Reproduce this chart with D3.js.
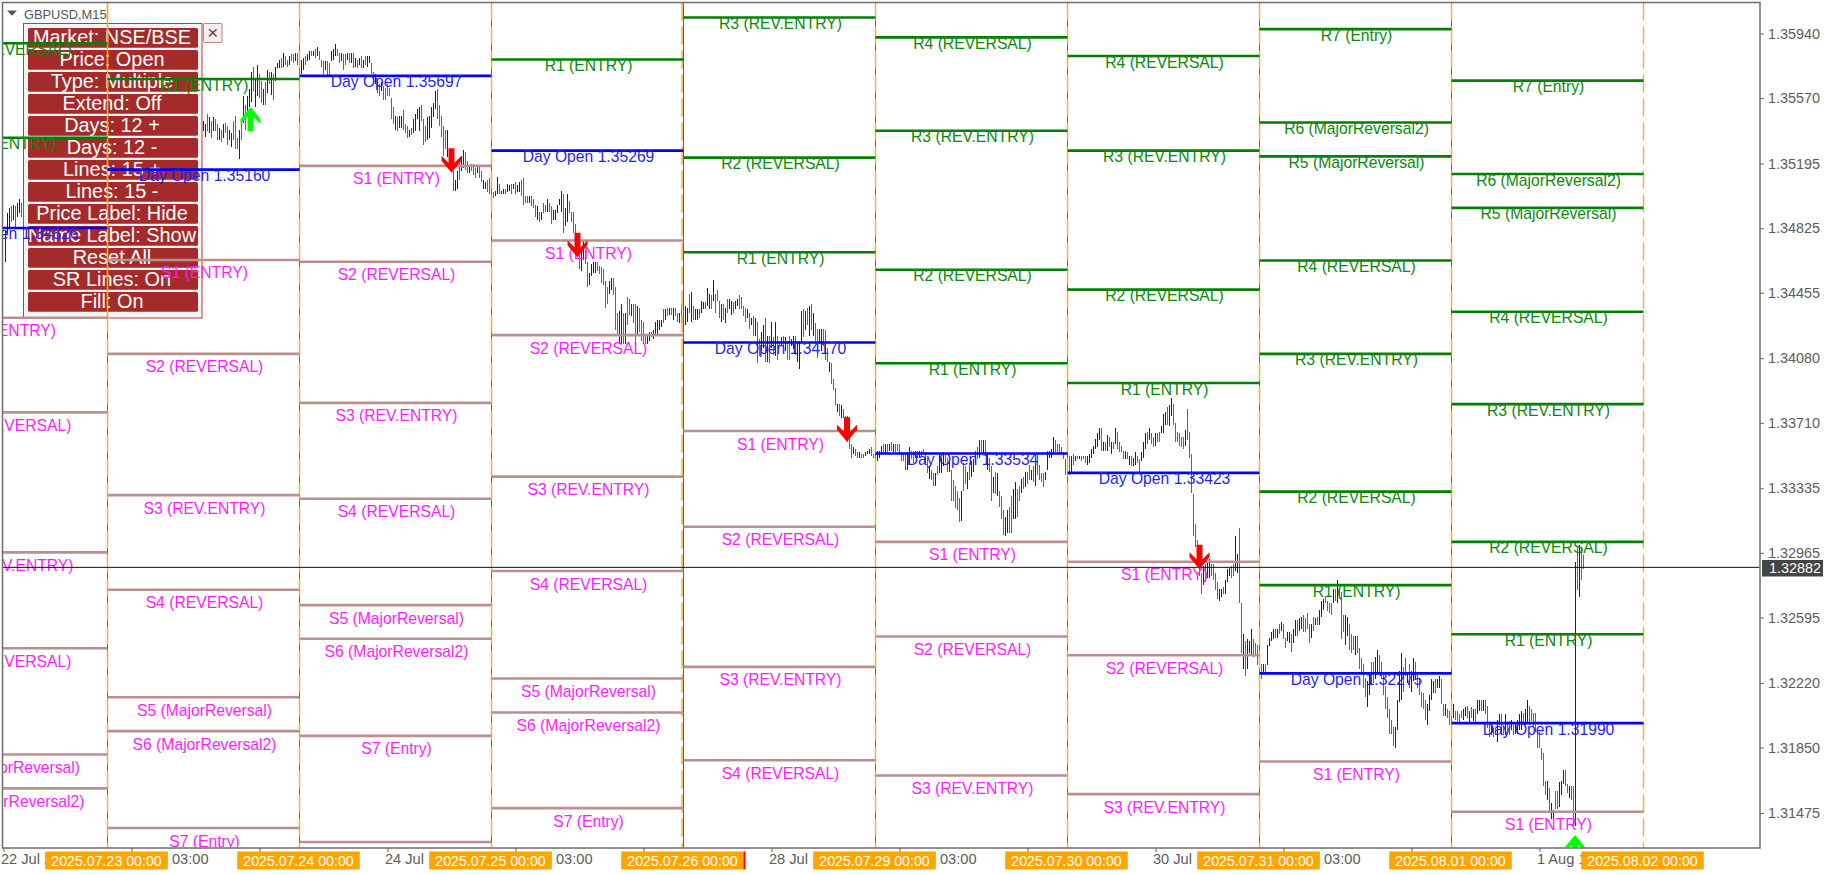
<!DOCTYPE html>
<html><head><meta charset="utf-8">
<script src="https://cdnjs.cloudflare.com/ajax/libs/d3/7.8.5/d3.min.js"></script>
<style>html,body{margin:0;background:#fff}svg{display:block}text{font-family:"Liberation Sans",Arial,sans-serif}</style>
</head><body><svg id="c" width="1832" height="875"></svg>
<script>
// Bars: [high, low, up] with prices in 1/10000.
const barsJul22 = [[13481,13463,1],[13491,13479,1],[13494,13483,1],[13495,13486,0],[13496,13487,1],[13495,13483,0],[13497,13489,1],[13499,13491,1],[13497,13489,0]];
const barsJul22FirstIndex = 1;
const barsFirstIndex = 100;
const barsJul23 = [[13544,13538,1],[13542,13535,1],[13548,13538,0],[13546,13537,1],[13544,13534,0],[13546,13538,1],[13545,13538,0],[13542,13533,0],[13540,13533,1],[13539,13532,0],[13542,13534,1],[13543,13537,0],[13541,13530,0],[13539,13533,1],[13537,13529,1],[13544,13533,0],[13547,13528,0],[13534,13528,0],[13539,13522,1],[13544,13533,0],[13558,13543,1],[13553,13539,0],[13558,13549,1],[13562,13552,1],[13572,13555,1],[13575,13561,0],[13568,13552,1],[13576,13558,1],[13571,13557,0],[13567,13554,0],[13562,13553,1],[13566,13553,0],[13573,13560,1],[13572,13565,0],[13572,13559,1],[13571,13556,0],[13575,13567,1],[13577,13574,1],[13579,13574,1],[13580,13574,0],[13583,13575,1],[13581,13576,0],[13579,13575,0],[13581,13576,1],[13582,13578,0],[13582,13577,0],[13583,13578,1],[13583,13576,0],[13582,13570,0]];
const barsJul24 = [[13579,13571,1],[13580,13573,1],[13581,13576,0],[13582,13578,1],[13584,13579,1],[13584,13581,0],[13584,13581,1],[13585,13580,0],[13586,13581,1],[13584,13579,0],[13579,13575,0],[13578,13571,0],[13578,13573,1],[13578,13570,0],[13577,13570,0],[13584,13578,1],[13585,13579,1],[13588,13581,1],[13585,13581,0],[13583,13577,0],[13583,13578,1],[13582,13573,0],[13582,13576,0],[13583,13579,1],[13583,13577,0],[13583,13577,1],[13583,13574,0],[13580,13575,1],[13579,13574,0],[13580,13576,1],[13581,13574,0],[13579,13574,1],[13581,13576,0],[13581,13575,1],[13581,13577,1],[13577,13571,0],[13572,13566,0],[13571,13565,1],[13568,13560,0],[13565,13558,0],[13566,13561,1],[13564,13556,0],[13563,13556,0],[13565,13558,0],[13563,13558,0],[13557,13545,0],[13552,13542,0],[13547,13539,1],[13546,13538,0],[13547,13540,1],[13547,13540,1],[13550,13539,0],[13542,13537,0],[13541,13534,0],[13539,13535,1],[13540,13536,0],[13545,13537,1],[13548,13538,1],[13551,13545,1],[13552,13538,1],[13553,13544,0],[13545,13530,0],[13541,13532,0],[13546,13533,1],[13547,13534,1],[13552,13540,1],[13554,13546,1],[13561,13551,1],[13562,13545,0],[13553,13541,0],[13547,13535,0],[13541,13524,0],[13539,13528,0],[13539,13523,1],[13528,13519,0],[13525,13515,0],[13515,13504,0],[13510,13504,1],[13515,13505,1],[13520,13510,0],[13524,13515,1],[13527,13517,1],[13526,13516,0],[13521,13514,0],[13518,13514,1],[13519,13515,0],[13519,13513,0],[13517,13511,0],[13518,13514,1],[13518,13511,0],[13515,13509,0],[13510,13505,1],[13509,13505,1],[13510,13503,0],[13511,13502,0],[13505,13502,0]];
const barsJul25 = [[13503,13500,0],[13504,13501,1],[13512,13502,1],[13508,13502,0],[13504,13502,1],[13505,13502,1],[13505,13502,0],[13508,13503,1],[13507,13504,1],[13508,13502,0],[13508,13505,1],[13509,13502,0],[13507,13503,1],[13509,13503,1],[13510,13501,0],[13511,13496,0],[13501,13497,0],[13501,13497,0],[13501,13497,1],[13501,13495,0],[13499,13494,0],[13496,13489,0],[13495,13487,1],[13492,13486,0],[13492,13487,1],[13497,13491,0],[13496,13492,0],[13499,13492,1],[13497,13492,0],[13495,13485,0],[13493,13487,1],[13493,13487,1],[13496,13491,1],[13499,13496,1],[13504,13492,1],[13502,13480,0],[13494,13484,1],[13502,13486,1],[13498,13491,0],[13492,13486,0],[13492,13480,0],[13485,13478,0],[13480,13466,0],[13472,13459,0],[13469,13458,1],[13476,13464,1],[13470,13462,0],[13463,13449,0],[13457,13450,1],[13462,13455,1],[13463,13457,1],[13463,13457,1],[13463,13458,0],[13461,13456,0],[13460,13451,0],[13459,13450,0],[13452,13437,0],[13449,13439,0],[13452,13445,1],[13454,13447,1],[13454,13444,0],[13449,13424,0],[13434,13422,0],[13435,13416,1],[13439,13416,1],[13434,13416,0],[13434,13416,1],[13443,13427,0],[13442,13433,0],[13439,13432,1],[13439,13428,0],[13439,13415,0],[13438,13422,1],[13437,13423,0],[13430,13418,0],[13429,13416,0],[13421,13416,0],[13422,13416,1],[13423,13418,1],[13423,13420,0],[13424,13419,1],[13429,13421,1],[13430,13422,1],[13430,13424,1],[13430,13426,1],[13436,13428,0],[13436,13430,1],[13437,13432,0],[13437,13433,1],[13437,13433,0],[13437,13430,1],[13437,13432,0],[13434,13429,0],[13434,13428,1],[13439,13428,0],[13438,13429,0]];
const barsJul28 = [[13438,13427,1],[13437,13429,1],[13445,13434,0],[13446,13429,1],[13438,13430,0],[13436,13430,1],[13436,13430,1],[13436,13431,0],[13441,13434,1],[13440,13436,1],[13440,13436,0],[13448,13438,1],[13445,13436,1],[13444,13436,0],[13453,13441,1],[13445,13434,0],[13447,13441,0],[13441,13431,0],[13439,13429,1],[13439,13430,0],[13437,13428,1],[13442,13434,0],[13442,13436,1],[13441,13433,1],[13440,13434,0],[13441,13436,1],[13442,13438,1],[13444,13436,0],[13443,13436,0],[13438,13432,0],[13437,13429,0],[13436,13431,1],[13434,13425,0],[13431,13427,1],[13432,13421,0],[13431,13421,1],[13429,13405,0],[13419,13409,0],[13423,13412,1],[13427,13414,1],[13431,13406,0],[13421,13406,1],[13421,13405,0],[13429,13414,1],[13420,13410,0],[13429,13409,1],[13421,13407,0],[13418,13415,0],[13420,13415,1],[13421,13414,0],[13420,13412,1],[13418,13407,0],[13421,13407,0],[13419,13415,1],[13421,13413,1],[13421,13410,0],[13417,13406,1],[13418,13402,1],[13435,13417,1],[13436,13420,0],[13435,13424,1],[13437,13427,0],[13438,13421,1],[13439,13424,0],[13434,13421,1],[13428,13418,0],[13425,13408,0],[13425,13416,1],[13425,13412,1],[13425,13415,0],[13424,13407,0],[13414,13406,0],[13406,13400,1],[13405,13393,0],[13396,13390,0],[13391,13381,0],[13382,13377,1],[13382,13375,0],[13381,13374,1],[13379,13374,0],[13375,13364,0],[13375,13360,0],[13365,13356,0],[13359,13351,0],[13357,13353,1],[13356,13352,0],[13354,13351,0],[13354,13351,1],[13353,13351,0],[13353,13351,0],[13354,13352,1],[13355,13353,1],[13356,13353,1],[13357,13352,0],[13353,13351,0],[13356,13350,0]];
const barsJul29 = [[13355,13349,1],[13355,13351,1],[13358,13353,1],[13359,13354,0],[13359,13353,1],[13359,13354,0],[13359,13355,1],[13360,13355,0],[13359,13354,1],[13359,13353,0],[13359,13355,0],[13359,13353,0],[13354,13349,0],[13353,13349,0],[13353,13344,0],[13354,13344,1],[13357,13347,1],[13355,13350,0],[13355,13348,0],[13355,13351,1],[13355,13351,0],[13355,13351,1],[13355,13352,0],[13356,13353,0],[13354,13347,0],[13351,13342,0],[13346,13339,1],[13344,13338,0],[13342,13335,0],[13342,13335,1],[13346,13341,0],[13353,13342,1],[13351,13342,1],[13354,13346,1],[13353,13348,0],[13351,13343,0],[13349,13343,1],[13344,13326,0],[13338,13326,0],[13335,13322,0],[13332,13321,0],[13328,13314,0],[13332,13315,1],[13348,13332,0],[13346,13336,0],[13343,13333,1],[13348,13338,0],[13349,13340,1],[13350,13343,1],[13355,13348,1],[13357,13350,0],[13361,13351,1],[13361,13354,0],[13361,13353,1],[13361,13352,0],[13354,13344,1],[13351,13343,0],[13346,13326,0],[13340,13331,1],[13343,13330,0],[13342,13329,1],[13332,13323,0],[13329,13316,0],[13321,13307,0],[13317,13306,1],[13321,13308,1],[13323,13308,0],[13329,13308,0],[13333,13316,1],[13337,13316,1],[13333,13317,0],[13335,13326,0],[13339,13331,1],[13340,13333,0],[13343,13334,1],[13343,13336,0],[13347,13338,0],[13344,13338,1],[13346,13337,0],[13347,13335,1],[13353,13341,0],[13347,13338,0],[13342,13337,0],[13342,13334,0],[13343,13338,1],[13355,13344,1],[13355,13351,1],[13356,13351,1],[13363,13353,1],[13361,13354,0],[13359,13354,0],[13359,13353,0],[13357,13353,0],[13354,13350,0],[13350,13341,0],[13354,13342,0]];
const barsJul30 = [[13352,13341,0],[13352,13343,1],[13353,13347,0],[13352,13349,1],[13352,13350,0],[13352,13350,1],[13352,13349,0],[13352,13350,0],[13352,13348,0],[13352,13347,1],[13353,13348,1],[13356,13351,1],[13358,13353,1],[13362,13356,1],[13365,13357,1],[13368,13361,1],[13368,13355,0],[13360,13355,1],[13360,13355,0],[13364,13355,1],[13363,13357,0],[13360,13353,1],[13360,13356,0],[13368,13359,1],[13366,13356,0],[13360,13354,0],[13358,13354,0],[13355,13350,0],[13355,13350,1],[13354,13350,0],[13352,13347,1],[13352,13346,0],[13351,13346,1],[13354,13347,1],[13352,13348,0],[13350,13342,0],[13354,13349,1],[13360,13351,1],[13365,13356,1],[13366,13359,0],[13368,13361,1],[13365,13359,0],[13363,13357,0],[13365,13358,1],[13365,13360,0],[13366,13360,0],[13369,13365,1],[13376,13365,1],[13377,13370,1],[13380,13370,0],[13381,13369,1],[13385,13375,1],[13382,13370,0],[13371,13360,0],[13366,13360,0],[13365,13358,0],[13363,13357,0],[13363,13356,0],[13367,13358,1],[13379,13361,0],[13366,13351,0],[13353,13331,0],[13330,13306,0],[13313,13300,0],[13304,13289,0],[13294,13283,0],[13285,13273,0],[13289,13278,1],[13290,13280,0],[13291,13282,1],[13293,13282,1],[13290,13283,0],[13290,13281,0],[13285,13275,0],[13280,13270,0],[13276,13269,1],[13276,13271,1],[13277,13273,0],[13281,13273,1],[13287,13280,1],[13288,13283,1],[13289,13282,0],[13290,13283,0],[13306,13286,1],[13296,13285,1],[13311,13268,0],[13268,13239,0],[13250,13230,1],[13246,13226,0],[13247,13230,1],[13246,13239,1],[13253,13238,1],[13247,13237,0],[13245,13238,0],[13244,13232,0],[13239,13226,0]];
const barsJul31 = [[13233,13224,0],[13233,13227,1],[13233,13227,0],[13244,13232,1],[13248,13243,1],[13251,13246,1],[13253,13247,1],[13253,13248,0],[13253,13248,1],[13256,13250,0],[13257,13252,1],[13256,13247,0],[13248,13242,0],[13251,13246,1],[13251,13245,1],[13250,13240,0],[13253,13245,1],[13258,13249,1],[13258,13249,0],[13259,13252,1],[13260,13253,1],[13261,13251,0],[13259,13251,0],[13262,13253,0],[13256,13245,0],[13256,13248,1],[13260,13252,0],[13259,13255,1],[13260,13255,0],[13264,13255,1],[13269,13260,1],[13270,13264,1],[13271,13268,0],[13269,13263,0],[13268,13262,0],[13268,13261,0],[13276,13268,1],[13276,13269,0],[13281,13268,1],[13276,13270,0],[13274,13247,0],[13261,13251,0],[13261,13244,1],[13260,13249,1],[13256,13241,0],[13250,13239,0],[13249,13241,0],[13249,13238,1],[13249,13239,0],[13242,13230,0],[13236,13228,0],[13233,13219,0],[13225,13214,0],[13223,13208,1],[13227,13215,1],[13234,13221,0],[13234,13222,0],[13237,13224,1],[13241,13227,1],[13238,13227,0],[13234,13224,0],[13228,13215,0],[13220,13207,0],[13214,13202,0],[13207,13193,0],[13201,13193,0],[13197,13186,0],[13197,13185,1],[13212,13195,1],[13229,13211,1],[13239,13212,1],[13231,13217,0],[13236,13226,0],[13228,13222,1],[13233,13219,0],[13229,13217,1],[13236,13223,1],[13234,13224,0],[13228,13219,0],[13225,13215,0],[13217,13208,0],[13216,13207,0],[13212,13201,0],[13210,13198,1],[13215,13206,1],[13224,13212,1],[13223,13216,1],[13224,13216,0],[13224,13219,1],[13226,13219,1],[13224,13210,0],[13210,13203,0],[13210,13203,1],[13207,13202,0],[13206,13198,0],[13208,13199,0]];
const barsAug01 = [[13210,13202,1],[13206,13201,0],[13206,13200,0],[13204,13199,0],[13206,13202,0],[13207,13201,1],[13208,13203,1],[13209,13202,0],[13206,13199,1],[13208,13202,0],[13207,13200,1],[13207,13199,0],[13212,13204,1],[13212,13206,1],[13212,13206,0],[13212,13206,1],[13212,13204,0],[13209,13196,0],[13199,13191,0],[13198,13192,1],[13196,13191,0],[13196,13192,0],[13201,13188,1],[13204,13198,1],[13204,13192,0],[13198,13192,0],[13204,13192,1],[13199,13194,0],[13200,13192,0],[13201,13195,1],[13198,13192,0],[13199,13193,1],[13201,13193,1],[13204,13195,1],[13206,13195,1],[13205,13198,0],[13207,13198,1],[13212,13199,1],[13209,13198,0],[13207,13200,0],[13205,13197,0],[13205,13194,0],[13195,13185,0],[13194,13185,0],[13185,13178,0],[13182,13163,0],[13166,13158,0],[13166,13155,1],[13162,13148,0],[13153,13144,1],[13149,13144,1],[13160,13150,0],[13160,13150,0],[13165,13151,1],[13166,13158,1],[13172,13164,1],[13172,13163,0],[13164,13159,0],[13163,13156,1],[13163,13155,0],[13163,13140,0],[13291,13140,1],[13300,13275,0],[13301,13271,1],[13300,13281,0],[13295,13287,0]];

const priceTicks = [1.3594,1.3557,1.35195,1.34825,1.34455,1.3408,1.3371,1.33335,1.32965,1.32595,1.3222,1.3185,1.31475];
const lastPrice = 1.32882;
const timeTickBars = [0,64,128,192,256,320,384,448,512,576,640,704,768];
const timeTickLabels = ["22 Jul 2025","23 Jul 03:00","23 Jul 19:00","24 Jul 11:00","25 Jul 03:00","25 Jul 19:00","28 Jul 11:00","29 Jul 03:00","29 Jul 19:00","30 Jul 11:00","31 Jul 03:00","31 Jul 19:00","1 Aug 11:00"];
const dayBars = [52,148,244,340,436,532,628,724,820];
const dayLabels = ["2025.07.23 00:00","2025.07.24 00:00","2025.07.25 00:00","2025.07.26 00:00","2025.07.29 00:00","2025.07.30 00:00","2025.07.31 00:00","2025.08.01 00:00","2025.08.02 00:00"];

const levelStarts = [-44,52,148,244,340,436,532,628,724];
const levelsA = [1.35884,1.35343,1.34826,1.34312,1.3377,1.32968,1.32419,1.3181,1.31616];
const namesA = ["R2 (REVERSAL)","R1 (ENTRY)","Day Open 1.34826","S1 (ENTRY)","S2 (REVERSAL)","S3 (REV.ENTRY)","S4 (REVERSAL)","S5 (MajorReversal)","S6 (MajorReversal2)"];
const levelsB = [1.35679,1.3516,1.34643,1.34105,1.33296,1.32754,1.32138,1.31944,1.31389];
const namesB = ["R1 (ENTRY)","Day Open 1.35160","S1 (ENTRY)","S2 (REVERSAL)","S3 (REV.ENTRY)","S4 (REVERSAL)","S5 (MajorReversal)","S6 (MajorReversal2)","S7 (Entry)"];
const levelsC = [1.35697,1.35182,1.34633,1.33824,1.33275,1.32666,1.32473,1.31917,1.31309];
const namesC = ["Day Open 1.35697","S1 (ENTRY)","S2 (REVERSAL)","S3 (REV.ENTRY)","S4 (REVERSAL)","S5 (MajorReversal)","S6 (MajorReversal2)","S7 (Entry)",""];
const levelsD = [1.35791,1.35269,1.34754,1.34212,1.33402,1.32861,1.32245,1.32051,1.31503];
const namesD = ["R1 (ENTRY)","Day Open 1.35269","S1 (ENTRY)","S2 (REVERSAL)","S3 (REV.ENTRY)","S4 (REVERSAL)","S5 (MajorReversal)","S6 (MajorReversal2)","S7 (Entry)"];
const levelsE = [1.36032,1.35229,1.34687,1.3417,1.33663,1.33115,1.32312,1.31777];
const namesE = ["R3 (REV.ENTRY)","R2 (REVERSAL)","R1 (ENTRY)","Day Open 1.34170","S1 (ENTRY)","S2 (REVERSAL)","S3 (REV.ENTRY)","S4 (REVERSAL)"];
const levelsF = [1.35918,1.35383,1.34587,1.34051,1.33534,1.33028,1.32486,1.3169];
const namesF = ["R4 (REVERSAL)","R3 (REV.ENTRY)","R2 (REVERSAL)","R1 (ENTRY)","Day Open 1.33534","S1 (ENTRY)","S2 (REVERSAL)","S3 (REV.ENTRY)"];
const levelsG = [1.35811,1.35269,1.34473,1.33938,1.33423,1.32914,1.32379,1.31583];
const namesG = ["R4 (REVERSAL)","R3 (REV.ENTRY)","R2 (REVERSAL)","R1 (ENTRY)","Day Open 1.33423","S1 (ENTRY)","S2 (REVERSAL)","S3 (REV.ENTRY)"];
const levelsH = [1.35965,1.3543,1.35236,1.3464,1.34105,1.33316,1.3278,1.32275,1.3177];
const namesH = ["R7 (Entry)","R6 (MajorReversal2)","R5 (MajorReversal)","R4 (REVERSAL)","R3 (REV.ENTRY)","R2 (REVERSAL)","R1 (ENTRY)","Day Open 1.32275","S1 (ENTRY)"];
const levelsI = [1.3567,1.35135,1.34941,1.34346,1.33817,1.33028,1.32499,1.3199,1.31482];
const namesI = ["R7 (Entry)","R6 (MajorReversal2)","R5 (MajorReversal)","R4 (REVERSAL)","R3 (REV.ENTRY)","R2 (REVERSAL)","R1 (ENTRY)","Day Open 1.31990","S1 (ENTRY)"];
const allLevels = [levelsA,levelsB,levelsC,levelsD,levelsE,levelsF,levelsG,levelsH,levelsI];
const allNames = [namesA,namesB,namesC,namesD,namesE,namesF,namesG,namesH,namesI];

const signalBars = [123.5,224,287,421.75,598,785.75];
const signalPrices = [1.35519,1.35143,1.34658,1.33602,1.32871,1.31349];
const signalUp = [1,0,0,0,0,1];

const panelLabels = ["Market: NSE/BSE","Price: Open","Type: Multiple","Extend: Off","Days: 12 +","Days: 12 -","Lines: 15 +","Lines: 15 -","Price Label: Hide","Name Label: Show","Reset All","SR Lines: On","Fill: On"];
const symbolTitle = "GBPUSD,M15";

const L=2.5,R=1760,T=2.5,B=848;
const x=d3.scaleLinear().domain([0,820]).range([3.5,1643.5]);
const y=d3.scaleLinear().domain([1.3594,1.31475]).range([33.5,813]);
const svg=d3.select("#c");
svg.append("clipPath").attr("id","plot").append("rect").attr("x",L+.5).attr("y",T+.5).attr("width",R-L-1).attr("height",B-T-1);

const toBar=(first)=>(b,k)=>({i:first+k,h:b[0]/1e4,l:b[1]/1e4,up:b[2]});
const bars=[...barsJul22.map(toBar(barsJul22FirstIndex)),
  ...[...barsJul23,...barsJul24,...barsJul25,...barsJul28,...barsJul29,...barsJul30,...barsJul31,...barsAug01].map(toBar(barsFirstIndex))];

const gp=svg.append("g").attr("clip-path","url(#plot)");
// red day separators under everything
gp.append("g").attr("shape-rendering","crispEdges").selectAll("line").data(dayBars.slice(0,-1)).join("line")
  .attr("x1",d=>x(d)).attr("x2",d=>x(d)).attr("y1",T).attr("y2",B).attr("stroke","#ff1a1a").attr("stroke-width",1);
// price bars
gp.append("g").attr("shape-rendering","crispEdges").selectAll("line").data(bars).join("line")
  .attr("x1",d=>x(d.i)).attr("x2",d=>x(d.i)).attr("y1",d=>y(d.h)).attr("y2",d=>y(d.l))
  .attr("stroke",d=>d.up?"#0c0ce6":"#e0294f").attr("stroke-width",1);

// control panel
const panel=svg.append("g");
panel.append("rect").attr("x",23.5).attr("y",23.5).attr("width",178.5).attr("height",294.5).attr("fill","#f3f3f3").attr("stroke","#bf3a3a").attr("stroke-width",1);
const pb=panel.selectAll("g").data(panelLabels).join("g").attr("transform",(d,k)=>`translate(28,${28+22*k})`);
pb.append("rect").attr("width",170).attr("height",19.7).attr("rx",1.5).attr("fill","#a52a2a");
pb.append("text").attr("x",84).attr("y",16.4).attr("text-anchor","middle").attr("fill","#fff").attr("font-size",19.9).text(d=>d);
panel.append("rect").attr("x",203.5).attr("y",23.5).attr("width",18.5).attr("height",19).attr("rx",1).attr("fill","#f1f1f1").attr("stroke","#c98080");
panel.append("text").attr("x",212.7).attr("y",38.5).attr("text-anchor","middle").attr("fill","#a52a2a").attr("font-size",19).text("×");

const gl=svg.append("g").attr("clip-path","url(#plot)");
// orange day separators
gl.append("g").selectAll("line").data(dayBars).join("line")
  .attr("x1",(d,k)=>x(d)-(k===3?1.5:0)).attr("x2",(d,k)=>x(d)-(k===3?1.5:0)).attr("y1",T).attr("y2",B)
  .attr("stroke","#ffa726").attr("stroke-width",1.4).attr("stroke-dasharray","18 6");
gl.append("line").attr("x1",x(dayBars[0])).attr("x2",x(dayBars[0])).attr("y1",T).attr("y2",318).attr("stroke","#ffa726").attr("stroke-width",1.4);

// levels
const levelRows=allLevels.flatMap((ls,k)=>ls.map((p,j)=>({p,name:allNames[k][j],a:levelStarts[k],b:levelStarts[k]+96})));
const kind=n=>n.startsWith("Day")?"o":n[0]==="R"?"r":"s";
const lineCol={o:"#0000ff",r:"#008000",s:"#bc8f8f"}, textCol={o:"#1f1ff5",r:"#0a8a0a",s:"#ff1aff"};
gl.append("g").selectAll("line").data(levelRows).join("line")
  .attr("x1",d=>x(d.a)).attr("x2",d=>x(d.b)).attr("y1",d=>y(d.p)).attr("y2",d=>y(d.p))
  .attr("stroke",d=>lineCol[kind(d.name)]).attr("stroke-width",2.6);
gl.append("g").selectAll("text").data(levelRows).join("text")
  .attr("x",d=>(x(d.a)+x(d.b))/2+1).attr("y",d=>y(d.p)+(kind(d.name)==="s"?18.5:11.5))
  .attr("text-anchor","middle").attr("font-size",15.7).attr("fill",d=>textCol[kind(d.name)]).text(d=>d.name);

// current price line
gl.append("line").attr("x1",L).attr("x2",R).attr("y1",y(lastPrice)).attr("y2",y(lastPrice)).attr("stroke","#111").attr("stroke-width",1);

// signal arrows
const arrow="M0,0L10,-12V-17L3,-10V-24.5H-3V-10L-10,-17V-12Z";
gl.append("g").selectAll("path").data(signalBars.map((b,k)=>({b,p:signalPrices[k],up:signalUp[k]}))).join("path")
  .attr("d",arrow).attr("fill",d=>d.up?"#00ff00":"#ff0000")
  .attr("transform",d=>`translate(${x(d.b)},${y(d.p)})`+(d.up?" scale(1,-1)":""));

// frame
svg.append("path").attr("d",`M${L},${B}V${T}H${R}V${B}Z`).attr("fill","none").attr("stroke","#6e6e6e").attr("stroke-width",1.5);

// axes
const gy=svg.append("g").attr("transform",`translate(${R},0)`).call(d3.axisRight(y).tickValues(priceTicks).tickFormat(d3.format(".5f")).tickSize(4).tickPadding(4));
gy.select(".domain").remove();
gy.selectAll("line").attr("stroke","#666");
gy.selectAll("text").attr("font-family","Liberation Sans").attr("font-size",14.4).attr("fill","#5c5c5c");
const gx=svg.append("g").attr("transform",`translate(0,${B})`).call(d3.axisBottom(x).tickValues(timeTickBars).tickFormat((d,k)=>timeTickLabels[k]).tickSize(4).tickPadding(2));
gx.select(".domain").remove();
gx.selectAll("line").attr("stroke","#666");
gx.selectAll("text").attr("text-anchor","start").attr("dx",-3).attr("font-family","Liberation Sans").attr("font-size",14.6).attr("fill","#5c5c5c");

// date flags
const flag=svg.append("g").selectAll("g").data(dayBars).join("g").attr("transform",d=>`translate(${x(d)-1},0)`);
flag.append("rect").attr("x",-61.3).attr("y",851.5).attr("width",122.6).attr("height",18).attr("fill","#ffa500");
flag.append("text").attr("y",865.5).attr("text-anchor","middle").attr("fill","#fff").attr("font-size",14.2).text((d,k)=>dayLabels[k]);
svg.append("rect").attr("x",x(dayBars[3])+60).attr("y",851.5).attr("width",2).attr("height",18).attr("fill","#ff0000");

// last price tag
svg.append("rect").attr("x",1762).attr("y",560).attr("width",61).attr("height",16.5).attr("fill","#444");
svg.append("text").attr("x",1769).attr("y",573).attr("fill","#fff").attr("font-size",14.4).text(d3.format(".5f")(lastPrice));

// title
svg.append("path").attr("d","M7,10.5H17L12,15.7Z").attr("fill","#555");
svg.append("text").attr("x",24).attr("y",19).attr("fill","#555").attr("font-size",12.8).text(symbolTitle);
</script></body></html>
